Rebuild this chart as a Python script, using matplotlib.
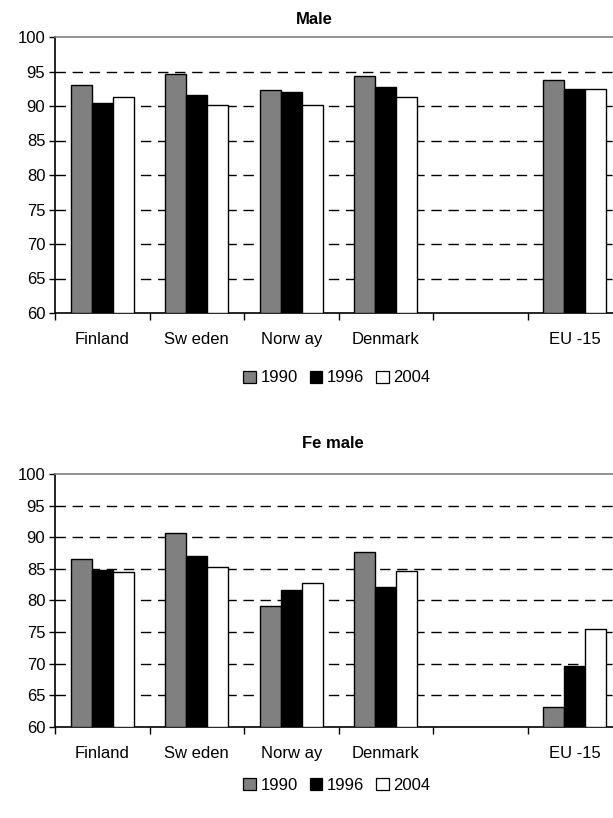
import matplotlib
matplotlib.use("Agg")
import matplotlib.pyplot as plt
from matplotlib.patches import Patch
import numpy as np

plt.rcParams['font.family'] = ['Liberation Sans', 'DejaVu Sans']

categories = ["Finland", "Sw eden", "Norw ay", "Denmark", "", "EU -15"]
years = ["1990", "1996", "2004"]
colors = ["#808080", "#000000", "#ffffff"]

male_1990 = [93.0, 94.7, 92.3, 94.4, np.nan, 93.8]
male_1996 = [90.4, 91.6, 92.1, 92.8, np.nan, 92.5]
male_2004 = [91.3, 90.1, 90.1, 91.3, np.nan, 92.5]

female_1990 = [86.6, 90.7, 79.1, 87.6, np.nan, 63.1]
female_1996 = [84.8, 87.1, 81.7, 82.2, np.nan, 69.6]
female_2004 = [84.5, 85.3, 82.7, 84.7, np.nan, 75.5]

yticks = [60, 65, 70, 75, 80, 85, 90, 95, 100]

W, H = 613, 818
fig = plt.figure(figsize=(W / 100, H / 100), dpi=100)


def panel(rect, title, series, title_pad, title_x, legend_y):
    ax = fig.add_axes(rect)
    x = np.arange(len(categories))
    bw = 0.222
    for i, (vals, c) in enumerate(zip(series, colors)):
        ax.bar(x + (i - 1) * bw, np.array(vals, dtype=float) - 60, bw, bottom=60,
               color=c, edgecolor="black", linewidth=1.0, zorder=3)
    ax.set_xlim(-0.5, len(categories) - 0.5)
    ax.set_ylim(60, 100)
    ax.set_yticks(yticks)
    ax.set_yticklabels([str(v) for v in yticks], fontsize=12)
    for v in yticks[1:-1]:
        ax.axhline(v, color="black", linewidth=1.0, dashes=(7.5, 4.8), zorder=1)
    ax.set_xticks(x)
    ax.set_xticklabels(categories, fontsize=12)
    ax.set_xticks(np.arange(len(categories) + 1) - 0.5, minor=True)
    ax.tick_params(axis="x", which="major", length=0, pad=14)
    ax.tick_params(axis="x", which="minor", length=5, width=1, direction="out")
    ax.tick_params(axis="y", length=4, width=1, direction="out", pad=3)
    ax.spines["right"].set_visible(False)
    ax.spines["top"].set_color("#808080")
    ax.spines["top"].set_linewidth(1.2)
    ax.spines["left"].set_linewidth(1.2)
    ax.spines["bottom"].set_linewidth(1.2)
    ax.set_title(title, fontsize=12, fontweight="bold", pad=title_pad, x=title_x)
    handles = [Patch(facecolor=c, edgecolor="black", linewidth=0.9) for c in colors]
    fig.legend(handles, years, loc="center", bbox_to_anchor=(337 / W, 1 - legend_y / H),
               ncol=3, frameon=False, fontsize=12, handlelength=0.75, handleheight=0.75,
               handletextpad=0.3, columnspacing=0.7, borderpad=0)
    return ax


panel([55 / W, 1 - 313 / H, 567 / W, 276 / H], "Male",
      [male_1990, male_1996, male_2004], 9.5, 0.457, 378)
panel([55 / W, 1 - 727 / H, 567 / W, 253 / H], "Fe male",
      [female_1990, female_1996, female_2004], 18.5, 0.49, 785)

fig.savefig("out.png", dpi=100)
